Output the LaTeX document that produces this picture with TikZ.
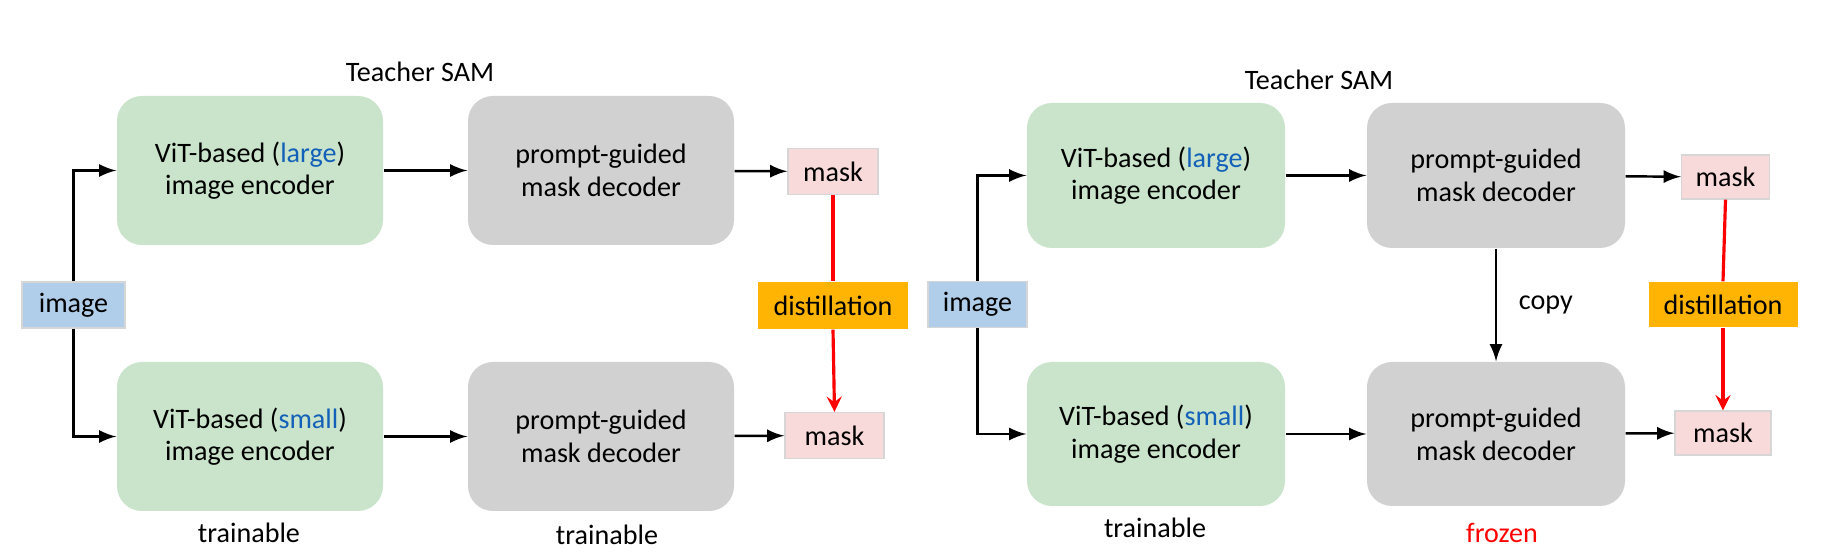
\documentclass[tikz,border=0pt]{standalone}
\usepackage{xcolor}
\usepackage{fontspec}
\setmainfont{Carlito}
\usepackage{tikz}
\usetikzlibrary{arrows,positioning}

\definecolor{encgreen}{HTML}{C9E4CA}
\definecolor{decgray}{HTML}{D1D1D1}
\definecolor{maskpink}{HTML}{F9DADA}
\definecolor{imgblue}{HTML}{B0CDE9}
\definecolor{distorange}{HTML}{FFB404}
\definecolor{vitblue}{HTML}{1260B8}
\definecolor{edgegray}{HTML}{D6D6D6}

\tikzset{
  encbox/.style={fill=encgreen, rounded corners=0.25cm, minimum width=2.66cm, minimum height=1.49cm, align=center, inner sep=0pt},
  decbox/.style={fill=decgray, rounded corners=0.25cm, minimum width=2.66cm, minimum height=1.49cm, align=center, inner sep=0pt},
  maskbox/.style={fill=maskpink, draw=edgegray, line width=0.4pt, minimum width=0.9cm, minimum height=0.46cm, inner sep=0pt},
  imgbox/.style={fill=imgblue, draw=edgegray, line width=0.4pt, minimum width=1.03cm, minimum height=0.46cm, inner sep=0pt},
  distbox/.style={fill=distorange, minimum width=1.5cm, minimum height=0.47cm, inner sep=0pt},
  flow/.style={->, >=latex, line width=0.7pt},
  distline/.style={red, line width=0.9pt},
}

\begin{document}
\begin{tikzpicture}[font=\fontsize{8}{9.3}\selectfont]
		\useasboundingbox (0, 0) rectangle (18.3, 5.6);

		% Left: teacher / student
		\node at (4.20, 4.88) (teacherL) {Teacher SAM};
		\node[imgbox] at (0.735, 2.55) (imgL) {image};
		\node[encbox] at (2.50, 3.895) (encL) {ViT-based (\textcolor{vitblue}{large})\\image encoder};
		\node[decbox] at (6.01, 3.895) (decL) {prompt-guided\\mask decoder};
		\node[maskbox] at (8.33, 3.885) (maskL) {mask};
		\node[encbox] at (2.50, 1.235) (encLS) {ViT-based (\textcolor{vitblue}{small})\\image encoder};
		\node[decbox] at (6.01, 1.235) (decLS) {prompt-guided\\mask decoder};
		\node[maskbox, minimum width=0.99cm] at (8.345, 1.245) (maskLS) {mask};
		\node[distbox] at (8.33, 2.545) (distL) {distillation};
		\node at (2.49, 0.27) (trainL) {trainable};
		\node at (6.07, 0.25) (trainLd) {trainable};

		\draw[flow] (imgL.north) |- (encL.west);
		\draw[flow] (imgL.south) |- (encLS.west);
		\draw[flow] (encL) -- (decL);
		\draw[flow] (decL) -- (maskL);
		\draw[flow] (encLS) -- (decLS);
		\draw[flow] (decLS) -- (maskLS);
		\draw[distline] (maskL.south) -- (distL.north);
		\draw[distline, -stealth] (distL.south) -- (maskLS.north);

		% Right: frozen decoder
		\node at (13.19, 4.80) (teacherR) {Teacher SAM};
		\node[imgbox, minimum width=0.99cm] at (9.775, 2.555) (imgR) {image};
		\node[encbox, minimum width=2.58cm, minimum height=1.45cm] at (11.56, 3.845) (encR) {ViT-based (\textcolor{vitblue}{large})\\image encoder};
		\node[decbox, minimum width=2.58cm, minimum height=1.45cm] at (14.96, 3.845) (decR) {prompt-guided\\mask decoder};
		\node[maskbox, minimum width=0.88cm, minimum height=0.44cm] at (17.255, 3.83) (maskR) {mask};
		\node[encbox, minimum width=2.58cm, minimum height=1.44cm] at (11.56, 1.26) (encRS) {ViT-based (\textcolor{vitblue}{small})\\image encoder};
		\node[decbox, minimum width=2.58cm, minimum height=1.44cm] at (14.96, 1.26) (decRS) {prompt-guided\\mask decoder};
		\node[maskbox, minimum width=0.96cm, minimum height=0.44cm] at (17.23, 1.27) (maskRS) {mask};
		\node[distbox, minimum width=1.49cm, minimum height=0.45cm] at (17.23, 2.555) (distR) {distillation};
		\node at (11.55, 0.32) (trainR) {trainable};
		\node[red] at (15.02, 0.27) (frozenR) {frozen};

		\draw[flow] (imgR.north) |- (encR.west);
		\draw[flow] (imgR.south) |- (encRS.west);
		\draw[flow] (encR) -- (decR);
		\draw[flow] (decR) -- (maskR);
		\draw[flow] (encRS) -- (decRS);
		\draw[flow] (decRS) -- (maskRS);
		\draw[flow] (decR.south) -- (decRS.north) node[midway, right=0.1cm] (copyR) {copy};
		\draw[distline] (maskR.south) -- (distR.north);
		\draw[distline, -stealth] (distR.south) -- (maskRS.north);
	\end{tikzpicture}
\end{document}
